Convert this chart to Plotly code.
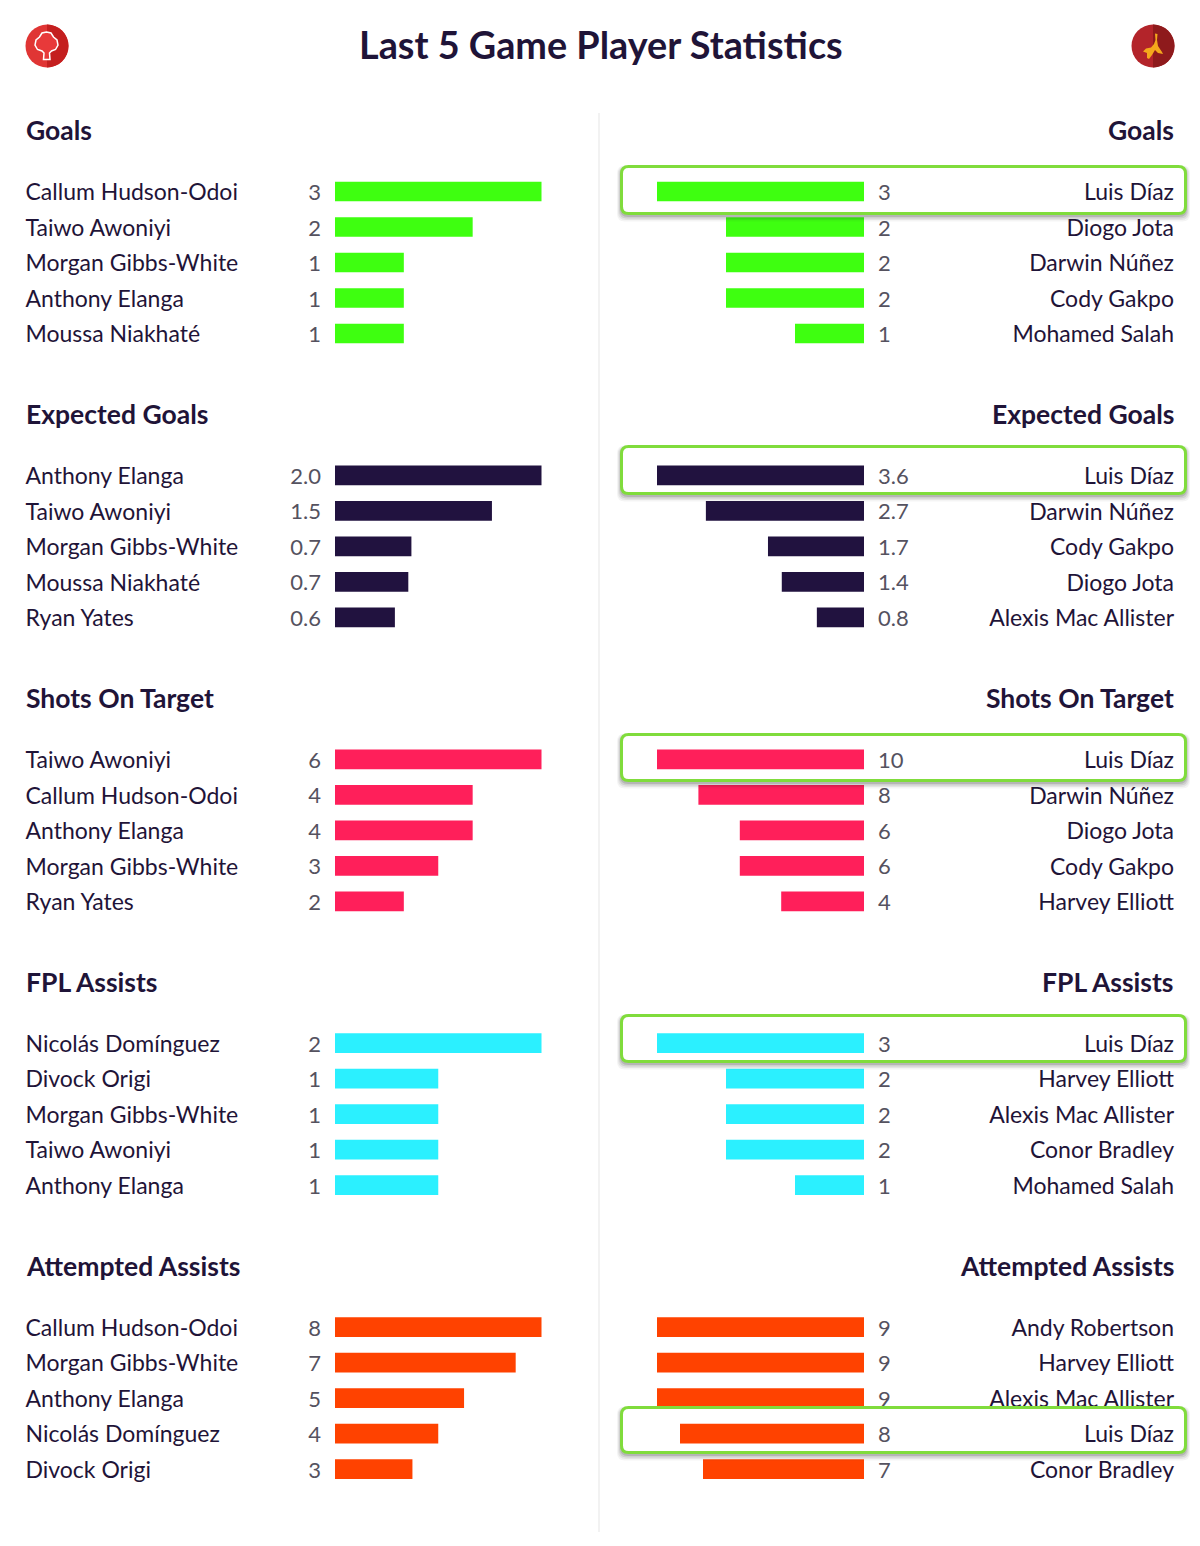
import plotly.graph_objects as go
import math

W, H = 1200, 1546
FONT = "Lato"
INK = "#1f1438"
GREY = "#55525f"
TITLE = "Last 5 Game Player Statistics"

SECTIONS = ["Goals", "Expected Goals", "Shots On Target", "FPL Assists", "Attempted Assists"]
COLORS = ["#3eff10", "#21123f", "#ff1f5a", "#2bf0ff", "#ff4200"]

left_goals_names = ["Callum Hudson-Odoi", "Taiwo Awoniyi", "Morgan Gibbs-White", "Anthony Elanga", "Moussa Niakhaté"]
left_goals_values = [3, 2, 1, 1, 1]
left_goals_labels = ["3", "2", "1", "1", "1"]
left_xg_names = ["Anthony Elanga", "Taiwo Awoniyi", "Morgan Gibbs-White", "Moussa Niakhaté", "Ryan Yates"]
left_xg_values = [2.0, 1.52, 0.74, 0.71, 0.58]
left_xg_labels = ["2.0", "1.5", "0.7", "0.7", "0.6"]
left_sot_names = ["Taiwo Awoniyi", "Callum Hudson-Odoi", "Anthony Elanga", "Morgan Gibbs-White", "Ryan Yates"]
left_sot_values = [6, 4, 4, 3, 2]
left_sot_labels = ["6", "4", "4", "3", "2"]
left_ast_names = ["Nicolás Domínguez", "Divock Origi", "Morgan Gibbs-White", "Taiwo Awoniyi", "Anthony Elanga"]
left_ast_values = [2, 1, 1, 1, 1]
left_ast_labels = ["2", "1", "1", "1", "1"]
left_att_names = ["Callum Hudson-Odoi", "Morgan Gibbs-White", "Anthony Elanga", "Nicolás Domínguez", "Divock Origi"]
left_att_values = [8, 7, 5, 4, 3]
left_att_labels = ["8", "7", "5", "4", "3"]

right_goals_names = ["Luis Díaz", "Diogo Jota", "Darwin Núñez", "Cody Gakpo", "Mohamed Salah"]
right_goals_values = [3, 2, 2, 2, 1]
right_goals_labels = ["3", "2", "2", "2", "1"]
right_xg_names = ["Luis Díaz", "Darwin Núñez", "Cody Gakpo", "Diogo Jota", "Alexis Mac Allister"]
right_xg_values = [3.6, 2.75, 1.67, 1.43, 0.82]
right_xg_labels = ["3.6", "2.7", "1.7", "1.4", "0.8"]
right_sot_names = ["Luis Díaz", "Darwin Núñez", "Diogo Jota", "Cody Gakpo", "Harvey Elliott"]
right_sot_values = [10, 8, 6, 6, 4]
right_sot_labels = ["10", "8", "6", "6", "4"]
right_ast_names = ["Luis Díaz", "Harvey Elliott", "Alexis Mac Allister", "Conor Bradley", "Mohamed Salah"]
right_ast_values = [3, 2, 2, 2, 1]
right_ast_labels = ["3", "2", "2", "2", "1"]
right_att_names = ["Andy Robertson", "Harvey Elliott", "Alexis Mac Allister", "Luis Díaz", "Conor Bradley"]
right_att_values = [9, 9, 9, 8, 7]
right_att_labels = ["9", "9", "9", "8", "7"]

LEFT = [
    (left_goals_names, left_goals_values, left_goals_labels),
    (left_xg_names, left_xg_values, left_xg_labels),
    (left_sot_names, left_sot_values, left_sot_labels),
    (left_ast_names, left_ast_values, left_ast_labels),
    (left_att_names, left_att_values, left_att_labels),
]
RIGHT = [
    (right_goals_names, right_goals_values, right_goals_labels),
    (right_xg_names, right_xg_values, right_xg_labels),
    (right_sot_names, right_sot_values, right_sot_labels),
    (right_ast_names, right_ast_values, right_ast_labels),
    (right_att_names, right_att_values, right_att_labels),
]
HIGHLIGHT = "Luis Díaz"

# layout geometry (pixels)
FIRST_ROW = [191.5, 475.4, 759.3, 1043.2, 1327.1]
SECTION_Y = [130, 414, 698, 982, 1266]
ROW = 35.5
BAR_H = 19.7
PAD = 1.5
TEXT_DY = 3 / ROW
L_DOM = (0, 598)
R_DOM = (600, 1200)
L_ZERO, L_FULL = 335, 541.5
R_ZERO, R_FULL = 864, 657
NAME_L, NAME_R = 25.5, 1174
VAL_L, VAL_R = 321, 878
BOX_Y = [(165, 215), (445, 495), (733, 782), (1014, 1063), (1406, 1454)]
BOX_X = (620, 1187)
GREEN = "#80dc3c"

fig = go.Figure()
layout = {}
shapes = []
annotations = []


def px(x):
    return x / W


def py(y):
    return 1 - y / H


def add_axes(idx, dom, zero, full, vmax, first):
    sx = vmax / (full - zero)
    rng = [(dom[0] - zero) * sx, (dom[1] - zero) * sx]
    suffix = "" if idx == 1 else str(idx)
    hidden = dict(visible=False, showgrid=False, zeroline=False, fixedrange=True)
    layout["xaxis" + suffix] = dict(
        hidden, domain=[px(dom[0]), px(dom[1])], range=rng, anchor="y" + suffix
    )
    layout["yaxis" + suffix] = dict(
        hidden,
        domain=[py(first + (4 + PAD + 0.5) * ROW), py(first - (PAD + 0.5) * ROW)],
        range=[4 + PAD + 0.5, -PAD - 0.5],
        anchor="x" + suffix,
    )
    return (lambda p: (p - zero) * sx), (lambda p: (p - first) / ROW), "x" + suffix, "y" + suffix


def add_rows(rows, names, values, labels, color, axes, name_px, val_px, name_pos, val_pos):
    to_x, _, xa, ya = axes
    if not rows:
        return
    text_y = [r + TEXT_DY for r in rows]
    fig.add_bar(
        x=[values[i] for i in rows], y=rows, orientation="h", xaxis=xa, yaxis=ya,
        width=BAR_H / ROW, marker=dict(color=color, line_width=0), hoverinfo="skip", showlegend=False,
    )
    fig.add_scatter(
        x=[to_x(name_px)] * len(rows), y=text_y, text=[names[i] for i in rows], mode="text",
        textposition=name_pos, textfont=dict(family=FONT, size=23, color=INK),
        xaxis=xa, yaxis=ya, hoverinfo="skip", showlegend=False,
    )
    fig.add_scatter(
        x=[to_x(val_px)] * len(rows), y=text_y, text=[labels[i] for i in rows], mode="text",
        textposition=val_pos, textfont=dict(family=FONT, size=22, color=GREY),
        xaxis=xa, yaxis=ya, hoverinfo="skip", showlegend=False,
    )


def rounded(x0, y0, x1, y1, r, to_x, to_y):
    X = lambda p: f"{to_x(p):.5f}"
    Y = lambda p: f"{to_y(p):.5f}"
    return (
        f"M{X(x0 + r)},{Y(y0)} L{X(x1 - r)},{Y(y0)} Q{X(x1)},{Y(y0)} {X(x1)},{Y(y0 + r)} "
        f"L{X(x1)},{Y(y1 - r)} Q{X(x1)},{Y(y1)} {X(x1 - r)},{Y(y1)} "
        f"L{X(x0 + r)},{Y(y1)} Q{X(x0)},{Y(y1)} {X(x0)},{Y(y1 - r)} "
        f"L{X(x0)},{Y(y0 + r)} Q{X(x0)},{Y(y0)} {X(x0 + r)},{Y(y0)} Z"
    )


for k in range(5):
    first = FIRST_ROW[k]
    # left team
    names, values, labels = LEFT[k]
    ax = add_axes(k + 1, L_DOM, L_ZERO, L_FULL, max(values), first)
    add_rows(list(range(5)), names, values, labels, COLORS[k], ax, NAME_L, VAL_L, "middle right", "middle left")

    # right team, all rows but the highlighted one
    names, values, labels = RIGHT[k]
    hi = names.index(HIGHLIGHT)
    others = [i for i in range(5) if i != hi]
    ax = add_axes(k + 6, R_DOM, R_ZERO, R_FULL, max(values), first)
    add_rows(others, names, values, labels, COLORS[k], ax, NAME_R, VAL_R, "middle left", "middle right")

    # highlighted row sits in its own later subplot, above the card
    ax = add_axes(k + 11, R_DOM, R_ZERO, R_FULL, max(values), first)
    add_rows([hi], names, values, labels, COLORS[k], ax, NAME_R, VAL_R, "middle left", "middle right")
    to_x, to_y, xa, ya = ax
    y0, y1 = BOX_Y[k]
    for grow, off, alpha in [(3, 3.5, 0.05), (2, 3, 0.07), (1, 2.5, 0.10), (0, 2, 0.14)]:
        shapes.append(dict(
            type="path", xref=xa, yref=ya, layer="below",
            path=rounded(BOX_X[0] - grow, y0 + off - grow, BOX_X[1] + grow, y1 + off + grow, 8, to_x, to_y),
            fillcolor=f"rgba(30,30,30,{alpha})", line_width=0,
        ))
    shapes.append(dict(
        type="path", xref=xa, yref=ya, layer="below",
        path=rounded(BOX_X[0] + 1.5, y0 + 1.5, BOX_X[1] - 1.5, y1 - 1.5, 7, to_x, to_y),
        fillcolor="white", line=dict(color=GREEN, width=3),
    ))

    # section headings
    for x, anchor in [(px(NAME_L - 2), "left"), (px(NAME_R + 2), "right")]:
        annotations.append(dict(
            text=SECTIONS[k], x=x, y=py(SECTION_Y[k]), xref="paper", yref="paper", xanchor=anchor,
            yanchor="middle", showarrow=False, font=dict(family=FONT, size=26.5, color=INK, weight=700),
        ))

annotations.append(dict(
    text=TITLE, x=px(600.5), y=py(45), xref="paper", yref="paper", xanchor="center", yanchor="middle",
    showarrow=False, font=dict(family=FONT, size=37.8, color=INK, weight=700),
))

# centre divider
shapes.append(dict(type="line", xref="paper", yref="paper", x0=px(599), x1=px(599), y0=py(113), y1=py(1532),
                   line=dict(color="#eeeeee", width=1.5), layer="below"))


def poly(points):
    return "M" + " L".join(f"{px(x):.5f},{py(y):.5f}" for x, y in points) + " Z"


def half_disc(cx, cy, r):
    pts = [(cx, cy - r)]
    n = 16
    for i in range(1, n + 1):
        a = -math.pi / 2 + math.pi * i / n
        pts.append((cx + r * math.cos(a), cy + r * math.sin(a)))
    return poly(pts)


def disc(cx, cy, r, fill):
    return dict(type="circle", xref="paper", yref="paper", x0=px(cx - r), x1=px(cx + r),
                y0=py(cy + r), y1=py(cy - r), fillcolor=fill, line_width=0, layer="below")


# crest badges
shapes.append(disc(47, 46, 21.5, "#e03534"))
shapes.append(dict(type="path", xref="paper", yref="paper", path=half_disc(47, 46, 21.5),
                   fillcolor="#c41f1f", line_width=0, layer="below"))
tree = [(46.5, 32), (51, 33), (53.5, 37), (57, 40), (58, 45), (55.5, 49.5), (51.5, 51), (49.5, 53), (50, 59.5),
        (43.5, 59.5), (44, 53), (42, 51), (37.5, 49.5), (35, 45), (36, 40), (39.5, 37), (42, 33)]
shapes.append(dict(type="path", xref="paper", yref="paper", path=poly(tree), fillcolor="#e8393a",
                   line=dict(color="white", width=1.5), layer="below"))

shapes.append(disc(1153, 46, 21.5, "#b3242a"))
shapes.append(dict(type="path", xref="paper", yref="paper", path=half_disc(1153, 46, 21.5),
                   fillcolor="#8e1a1c", line_width=0, layer="below"))
peel = [(1155, 33.5), (1157.5, 34), (1157, 40), (1158, 46), (1162, 52), (1163, 54), (1158, 53), (1155, 50),
        (1152, 55), (1149, 59), (1147, 58), (1147, 53), (1143, 51.5), (1146, 48.5), (1151, 47.5), (1154, 44), (1155.5, 40)]
shapes.append(dict(type="path", xref="paper", yref="paper", path=poly(peel), fillcolor="#f5a81c",
                   line_width=0, layer="below"))

fig.update_layout(
    width=W, height=H, margin=dict(l=0, r=0, t=0, b=0, pad=0), autosize=False,
    paper_bgcolor="white", plot_bgcolor="rgba(0,0,0,0)", showlegend=False, barmode="overlay",
    shapes=shapes, annotations=annotations, **layout,
)
fig.write_html("out.html", config={"displayModeBar": False}, post_script="document.body.style.margin='0';")
